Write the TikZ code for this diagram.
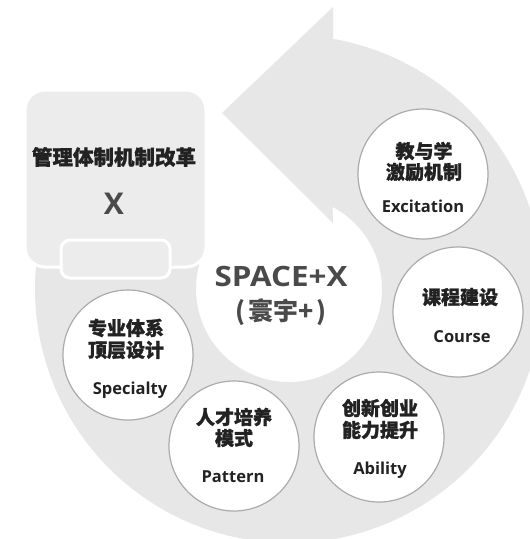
\documentclass[tikz,border=0pt]{standalone}
\usepackage{fontspec}
\newfontfamily\cjk[BoldFeatures={FakeBold=1.3}]{Noto Sans CJK SC}
\newfontfamily\cjkmid{Noto Sans CJK SC}
\newfontfamily\lat{Open Sans}
\newfontfamily\latwide[FakeStretch=1.12]{Open Sans}
\usetikzlibrary{calc}
\definecolor{ringgray}{HTML}{E7E7E7}
\definecolor{boxgray}{HTML}{ECECEC}
\definecolor{circedge}{HTML}{ABABAB}
\definecolor{txt}{HTML}{222222}
\definecolor{txtmid}{HTML}{4A4A4A}
\tikzset{
  bubble/.style={circle, fill=white, draw=circedge, line width=1.2pt, minimum size=130pt, inner sep=0pt},
  cn/.style={font=\cjk\bfseries\fontsize{19}{22}\selectfont, text=txt, inner sep=0pt},
  en/.style={font=\lat\bfseries\fontsize{16.5}{19}\selectfont, text=txt, inner sep=0pt},
  panel/.style={draw=white, line width=3pt, fill=boxgray, inner sep=0pt},
}
\begin{document}
\begin{tikzpicture}[x=1pt,y=-1pt]
\useasboundingbox (0,0) rectangle (530,539);
\fill[white] (0,0) rectangle (530,539);
\clip (0,0) rectangle (530,539);
\coordinate (c) at (289,289);
% circular arrow
\fill[ringgray] ($(c)+(-80:254)$) arc[start angle=-80, end angle=205, radius=254]
  -- ($(c)+(205:93)$) arc[start angle=205, end angle=-62, radius=93]
  -- (333,223) -- (222,113) -- (333,7) -- cycle;
% management box
\node[panel, rounded corners=20pt, minimum width=181pt, minimum height=177pt] (box) at (115.5,178.5) {};
\node[panel, rounded corners=9pt, minimum width=109pt, minimum height=38pt] (tab) at (115.5,259) {};
\node[font=\cjk\bfseries\fontsize{20.5}{24}\selectfont, text=txt, inner sep=0pt] (boxtitle) at (114,157) {管理体制机制改革};
\node[font=\lat\bfseries\fontsize{30}{34}\selectfont, text=txtmid, inner sep=0pt] (boxx) at (114,204) {X};
% centre
\node[font=\latwide\bfseries\fontsize{28}{32}\selectfont, text=txtmid, inner sep=0pt] (space) at (281,276) {SPACE+X};
\node[font=\cjkmid\bfseries\fontsize{25}{28}\selectfont, text=txtmid, inner sep=0pt] (huanyu) at (281,312) {(\hspace{3pt}寰宇+\hspace{3pt})};
% bubbles
\node[bubble] (ex) at (423,174) {};
\node[bubble] (co) at (458,312) {};
\node[bubble] (ab) at (379,437) {};
\node[bubble] (pa) at (234,446) {};
\node[bubble] (sp) at (128,355) {};
% bubble texts
\node[cn] (ex1) at (424,151) {教与学};
\node[cn] (ex2) at (424,172) {激励机制};
\node[en] (ex3) at (423,206) {Excitation};
\node[cn] (co1) at (460,297) {课程建设};
\node[en] (co2) at (462,337) {Course};
\node[cn] (ab1) at (380,408) {创新创业};
\node[cn] (ab2) at (380,430) {能力提升};
\node[en] (ab3) at (380,470) {Ability};
\node[cn] (pa1) at (234,417) {人才培养};
\node[cn] (pa2) at (234,438) {模式};
\node[en] (pa3) at (233,477) {Pattern};
\node[cn] (sp1) at (126,328) {专业体系};
\node[cn] (sp2) at (126,350) {顶层设计};
\node[en] (sp3) at (130,390) {Specialty};
\end{tikzpicture}
\end{document}
